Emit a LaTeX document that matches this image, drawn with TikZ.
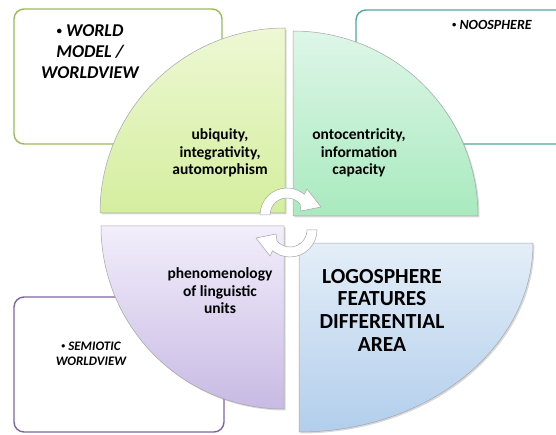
\documentclass[tikz,border=0pt]{standalone}
\usepackage{fontspec}
\setmainfont{Carlito}
\usetikzlibrary{shadows}

\definecolor{boxgreen}{RGB}{155,187,89}
\definecolor{boxteal}{RGB}{80,168,158}
\definecolor{boxpurple}{RGB}{128,100,162}
\definecolor{greentop}{RGB}{238,248,212}
\definecolor{greenbot}{RGB}{212,238,158}
\definecolor{minttop}{RGB}{222,246,232}
\definecolor{mintbot}{RGB}{168,234,190}
\definecolor{lilactop}{RGB}{242,238,251}
\definecolor{lilacbot}{RGB}{200,186,228}
\definecolor{bluetop}{RGB}{228,238,248}
\definecolor{bluebot}{RGB}{178,206,236}
\newcommand{\smbullet}{\raisebox{0.12em}{\scalebox{0.6}{•}}}

\begin{document}
\begin{tikzpicture}[x=1pt,y=1pt,
  infobox/.style={rounded corners=10pt,line width=1.4pt,fill=white},
  quarter/.style={draw=gray!70,line width=0.5pt,
    drop shadow={opacity=0.3,shadow xshift=1.5pt,shadow yshift=-1.5pt}},
  qtext/.style={align=center,font=\bfseries\fontsize{15.5}{17.5}\selectfont},
  btext/.style={align=center},
  cyclearrow/.style={fill=white,draw=gray!70,line width=0.5pt}]
  \clip (0,0) rectangle (556,434);

  % outer boxes
  \draw[infobox,draw=boxgreen] (14,290) rectangle (222,425);
  \draw[infobox,draw=boxteal] (356,290) rectangle (590,424);
  \draw[infobox,draw=boxpurple] (14,2) rectangle (224,137);

  \node[btext,font=\bfseries\itshape\fontsize{18}{21}\selectfont] (world) at (90,382) {\smbullet\ WORLD\\MODEL /\\WORLDVIEW};
  \node[btext,font=\bfseries\itshape\fontsize{14}{16}\selectfont] (noosph) at (492,409) {\smbullet\ NOOSPHERE};
  \node[btext,font=\bfseries\itshape\fontsize{13}{15}\selectfont] (semiot) at (91,80.5) {\smbullet\ SEMIOTIC\\WORLDVIEW};

  % quadrants
  \draw[quarter,top color=greentop,bottom color=greenbot]
    (285,221) -- (100,221) arc[start angle=180,end angle=90,radius=185] -- cycle;
  \draw[quarter,top color=minttop,bottom color=mintbot]
    (293,218) -- (478,218) arc[start angle=0,end angle=90,radius=185] -- cycle;
  \draw[quarter,top color=lilactop,bottom color=lilacbot]
    (284,208) -- (284,25) arc[start angle=270,end angle=180,radius=183] -- cycle;
  \draw[quarter,top color=bluetop,bottom color=bluebot]
    (299,191) -- (533,191) arc[start angle=0,end angle=-90,x radius=234,y radius=189] -- cycle;

  \node[qtext] (ubiq) at (220,281) {ubiquity,\\integrativity,\\automorphism};
  \node[qtext] (onto) at (359,281) {ontocentricity,\\information\\capacity};
  \node[qtext] (phenom) at (220,143) {phenomenology\\of linguistic\\units};
  \node[qtext,font=\bfseries\fontsize{21.5}{22.7}\selectfont] (logos) at (382,124) {LOGOSPHERE\\FEATURES\\DIFFERENTIAL\\AREA};

  % cycle arrows
  \foreach \cx/\cy/\rot in {287/219/0, 290/204/180}
    \draw[cyclearrow,shift={(\cx,\cy)},rotate=\rot]
      (180:27) arc[start angle=180,end angle=50,radius=27] -- (20,26) -- (34,8) -- (14,4)
      -- (40:17) arc[start angle=40,end angle=180,radius=17] -- cycle;
\end{tikzpicture}
\end{document}
